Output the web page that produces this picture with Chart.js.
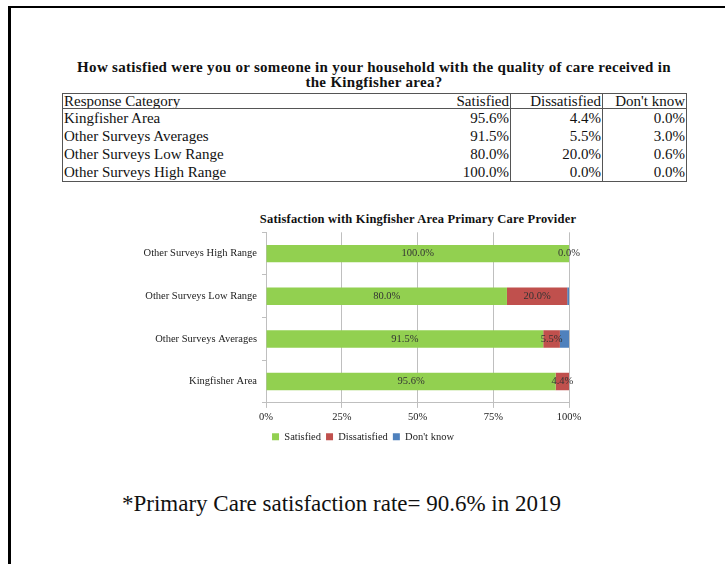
<!DOCTYPE html>
<html>
<head>
<meta charset="utf-8">
<script src="https://cdn.jsdelivr.net/npm/chart.js@4"></script>
<style>
  html, body { margin: 0; padding: 0; background: #fff; }
  body { width: 725px; height: 564px; position: relative; overflow: hidden; font-family: 'Liberation Serif', serif; color: #111; }
  .frame { position: absolute; left: 8px; top: 6px; right: -4px; bottom: -4px; border-left: 3px solid #000; border-top: 2px solid #000; }
  .heading { position: absolute; left: 30px; width: 688px; top: 60px; text-align: center; font-weight: bold; font-size: 15px; letter-spacing: 0.3px; line-height: 15px; }
  table.summary { position: absolute; left: 62px; top: 93px; width: 624px; border-collapse: collapse; font-size: 15px; table-layout: fixed; }
  table.summary td { padding: 0 1px; line-height: 16px; height: 18px; white-space: nowrap; overflow: hidden; }
  table.summary tr.head td { height: 14px; line-height: 14px; border-top: 1px solid #555; border-bottom: 1px solid #555; }
  table.summary tr:last-child td { border-bottom: 1px solid #555; }
  table.summary td.cat { border-left: 1px solid #555; }
  table.summary td.num { text-align: right; border-right: 1px solid #555; }
  .chart-title { position: absolute; left: 218px; width: 400px; top: 212px; text-align: center; font-weight: bold; font-size: 12.5px; letter-spacing: 0.2px; }
  .chart-box { position: absolute; left: 120px; top: 221px; width: 480px; height: 231px; }
  .note { position: absolute; left: 122px; top: 491px; font-size: 23px; white-space: nowrap; }
</style>
</head>
<body>
<div class="frame"></div>
<div class="heading">How satisfied were you or someone in your household with the quality of care received in<br>the Kingfisher area?</div>
<table class="summary" id="summary">
  <colgroup><col style="width:368px"><col style="width:80px"><col style="width:92px"><col style="width:84px"></colgroup>
</table>
<div class="chart-title">Satisfaction with Kingfisher Area Primary Care Provider</div>
<div class="chart-box"><canvas id="chart" width="480" height="231"></canvas></div>
<div class="note">*Primary Care satisfaction rate= 90.6% in 2019</div>

<script>
  // Values as printed in the table above the chart
  const categories = ['Kingfisher Area', 'Other Surveys Averages', 'Other Surveys Low Range', 'Other Surveys High Range'];
  const satisfied = [95.6, 91.5, 80.0, 100.0];
  const dissatisfied = [4.4, 5.5, 20.0, 0.0];
  const dontKnow = [0.0, 3.0, 0.6, 0.0];
  const seriesNames = ['Satisfied', 'Dissatisfied', "Don't know"];
  const xTicks = [0, 25, 50, 75, 100];

  const series = [satisfied, dissatisfied, dontKnow];
  const colors = ['#92D050', '#C0504D', '#4F81BD'];
  const serif = '"Liberation Serif", serif';

  // Build the summary table
  const table = document.getElementById('summary');
  const fmt = (v) => v.toFixed(1) + '%';
  let html = '<tr class="head"><td class="cat">Response Category</td>' +
    seriesNames.map((n) => '<td class="num">' + n + '</td>').join('') + '</tr>';
  categories.forEach((c, i) => {
    html += '<tr><td class="cat">' + c + '</td>' +
      series.map((s) => '<td class="num">' + fmt(s[i]) + '</td>').join('') + '</tr>';
  });
  table.insertAdjacentHTML('beforeend', html);

  // 100% stacked: each row is scaled to its own total, labels keep raw values
  const totals = categories.map((c, i) => satisfied[i] + dissatisfied[i] + dontKnow[i]);
  const share = (arr) => arr.map((v, i) => v / totals[i] * 100);

  // Value labels in the middle of Satisfied / Dissatisfied segments
  const segmentLabels = {
    id: 'segmentLabels',
    afterDatasetsDraw(chart) {
      const ctx = chart.ctx;
      ctx.save();
      ctx.font = '10.5px ' + serif;
      ctx.fillStyle = '#333';
      ctx.textAlign = 'center';
      ctx.textBaseline = 'middle';
      [0, 1].forEach((di) => {
        chart.getDatasetMeta(di).data.forEach((bar, i) => {
          ctx.fillText(fmt(series[di][i]), (bar.x + bar.base) / 2, bar.y);
        });
      });
      ctx.restore();
    }
  };

  // Move the legend so its centre lands on a given x (canvas px)
  const legendCentre = {
    id: 'legendCentre',
    afterLayout(chart, args, opts) {
      const lg = chart.legend;
      if (!lg || opts.x == null) return;
      const shift = opts.x - (lg.left + lg.right) / 2;
      lg.left += shift;
      lg.right += shift;
    }
  };

  new Chart(document.getElementById('chart'), {
    type: 'bar',
    data: {
      labels: categories,
      datasets: seriesNames.map((name, i) => ({
        label: name,
        data: share(series[i]),
        backgroundColor: colors[i],
        borderWidth: 0,
        barPercentage: 0.41,
        categoryPercentage: 1
      }))
    },
    options: {
      indexAxis: 'y',
      responsive: false,
      animation: false,
      layout: { padding: { left: 0, right: 31, top: 0, bottom: 0 } },
      plugins: {
        title: { display: false },
        legend: {
          position: 'bottom',
          labels: {
            boxWidth: 7,
            boxHeight: 7,
            padding: 5,
            color: '#222',
            font: { family: serif, size: 10.5 }
          }
        },
        legendCentre: { x: 243 },
        tooltip: { enabled: false }
      },
      scales: {
        x: {
          stacked: true,
          min: 0,
          max: 100,
          afterBuildTicks: (axis) => { axis.ticks = xTicks.map((v) => ({ value: v })); },
          ticks: {
            callback: (v) => v + '%',
            color: '#222',
            padding: 3,
            font: { family: serif, size: 10.5 }
          },
          grid: { color: '#bfbfbf', tickLength: 5 },
          border: { color: '#bfbfbf' }
        },
        y: {
          stacked: true,
          reverse: true,
          afterFit: (axis) => { axis.width = 146; },
          ticks: {
            color: '#222',
            padding: 5,
            font: { family: serif, size: 10.5 }
          },
          grid: { drawOnChartArea: false, color: '#bfbfbf', tickLength: 4, offset: true },
          border: { color: '#bfbfbf' }
        }
      }
    },
    plugins: [segmentLabels, legendCentre]
  });
</script>
</body>
</html>
